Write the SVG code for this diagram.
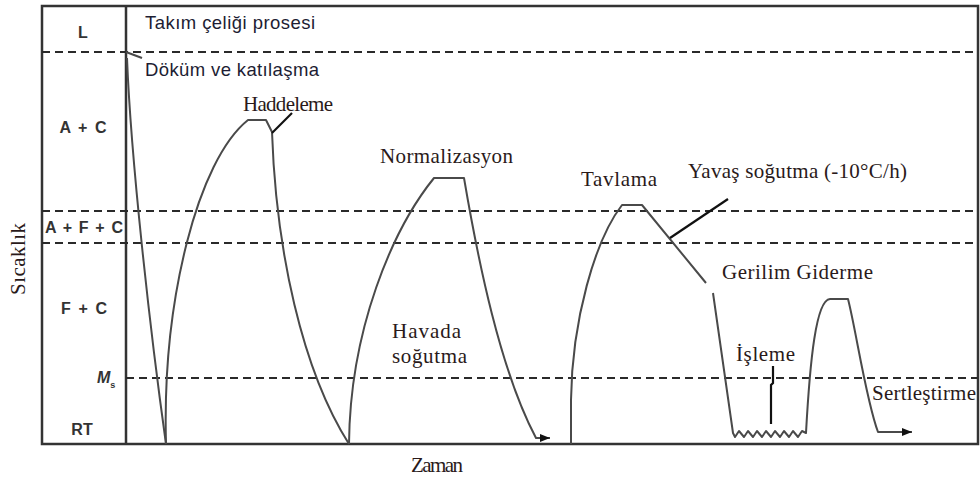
<svg xmlns="http://www.w3.org/2000/svg" width="980" height="484" viewBox="0 0 980 484">
<style>
.frame{fill:none;stroke:#333;stroke-width:2.5}
.dash{fill:none;stroke:#2a2a2a;stroke-width:2;stroke-dasharray:8 5}
.curve{fill:none;stroke:#4a4a4a;stroke-width:2;stroke-linejoin:round}
.ptr{fill:none;stroke:#111;stroke-width:2.2}
.zone{font-family:"Liberation Sans",Arial,sans-serif;font-weight:bold;font-size:16px;fill:#333}
.sans{font-family:"Liberation Sans",Arial,sans-serif;font-size:18.5px;fill:#1d1d33}
.serif{font-family:"Liberation Serif","Times New Roman",serif;font-size:21px;fill:#2a1a1a}
</style>
<defs>
<marker id="ah" viewBox="0 0 10 8" refX="10" refY="4" markerWidth="10" markerHeight="8" markerUnits="userSpaceOnUse" orient="auto">
<path d="M0,0 L10,4 L0,8 Z" fill="#111"/>
</marker>
</defs>
<g id="frame">
<rect class="frame" x="42" y="6" width="936" height="438"/>
<line class="frame" x1="126" y1="6" x2="126" y2="444"/>
</g>
<g id="phase-lines">
<line class="dash" x1="42" y1="52" x2="978" y2="52"/>
<line class="dash" x1="42" y1="211" x2="978" y2="211"/>
<line class="dash" x1="42" y1="243" x2="978" y2="243"/>
<line class="dash" x1="126" y1="378" x2="978" y2="378"/>
</g>
<g id="zones">
<text class="zone" x="83" y="38" text-anchor="middle">L</text>
<text class="zone" x="83" y="133" text-anchor="middle" textLength="47">A + C</text>
<text class="zone" x="84" y="233" text-anchor="middle" textLength="78">A + F + C</text>
<text class="zone" x="84" y="314" text-anchor="middle" textLength="46">F + C</text>
<text class="zone" x="97" y="383" font-style="italic">M<tspan font-size="9" dy="5" font-style="normal">s</tspan></text>
<text class="zone" x="82" y="435" text-anchor="middle">RT</text>
</g>
<g id="connectors">
<path class="curve" d="M126,52 L142,58"/>
<path class="curve" d="M127,58 C131,160 150,330 166,444"/>
<path class="curve" d="M166,444 C162,300 198,160 248,120 L266,120 L272,132 C276,250 302,370 349,444"/>
<path class="curve" d="M349,444 C350,330 392,230 434,178 L464,178 C478,260 500,370 536,438 L550,438" marker-end="url(#ah)"/>
<path class="curve" d="M571,444 L571,400 C572,320 595,240 622,205 L642,205 L706,283"/>
<path class="curve" d="M713,293 L733,433 L735,437 L739,431 L744,437 L748,431 L753,437 L757,431 L762,437 L766,431 L771,437 L775,431 L780,437 L784,431 L789,437 L793,431 L798,437 L802,431 L806,433 C810,360 816,300 830,299 L848,299 C856,330 866,400 878,432 L912,432" marker-end="url(#ah)"/>
<path class="ptr" d="M272,133 L292,113"/>
<path class="ptr" d="M670,238 L728,199"/>
<path class="ptr" d="M771,424 L771,385 L773,383 L773,366"/>
</g>
<g id="labels">
<text class="sans" x="145" y="29" textLength="170">Takım çeliği prosesi</text>
<text class="sans" x="145" y="76" textLength="174">Döküm ve katılaşma</text>
<text class="serif" x="243" y="111" textLength="90">Haddeleme</text>
<text class="serif" x="380" y="163" textLength="133">Normalizasyon</text>
<text class="serif" x="581" y="186" textLength="76">Tavlama</text>
<text class="serif" x="688" y="178" textLength="219">Yavaş soğutma (-10°C/h)</text>
<text class="serif" x="722" y="279" textLength="151">Gerilim Giderme</text>
<text class="serif" x="392" y="338" textLength="69">Havada</text>
<text class="serif" x="392" y="363" textLength="75">soğutma</text>
<text class="serif" x="736" y="361" textLength="59">İşleme</text>
<text class="serif" x="872" y="400" textLength="104">Sertleştirme</text>
<text class="serif" x="411" y="472" textLength="52">Zaman</text>
<text class="serif" transform="translate(25,259) rotate(-90)" text-anchor="middle" textLength="72">Sıcaklık</text>
</g>
</svg>
